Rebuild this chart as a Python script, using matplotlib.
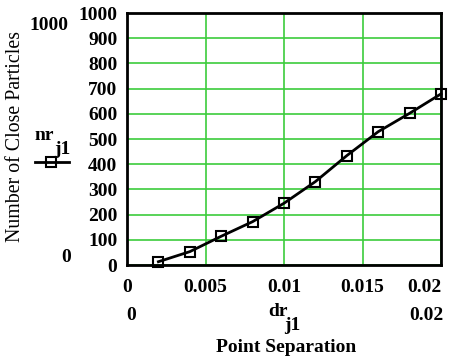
import numpy as np
from matplotlib import pyplot as plt
from matplotlib.lines import Line2D

# --- DATA ---
dr_j1 = [0.002, 0.004, 0.006, 0.008, 0.010, 0.012, 0.014, 0.016, 0.018, 0.020]
nr_j1 = [13, 53, 114, 172, 245, 331, 434, 529, 602, 679]
x_ticks = [0, 0.005, 0.01, 0.015, 0.02]
x_tick_labels = ["0", "0.005", "0.01", "0.015", "0.02"]
y_ticks = list(range(0, 1001, 100))

plt.rcParams["font.family"] = ["Liberation Serif", "DejaVu Serif"]
W, H = 451, 364
GREEN = "#3ccc3c"
FS = 14

fig = plt.figure(figsize=(W / 100, H / 100), dpi=100)
ax = fig.add_axes([127 / W, 1 - 265 / H, (441 - 127) / W, (265 - 13) / H])

ax.plot(dr_j1, nr_j1, color="black", linewidth=2, marker="s", markersize=7.5,
        markerfacecolor="none", markeredgecolor="black", markeredgewidth=1.5,
        clip_on=False, zorder=3)

ax.set_xlim(0, 0.0199)
ax.set_ylim(0, 1000)
ax.set_xticks(x_ticks)
ax.set_xticklabels(x_tick_labels)
ax.set_yticks(y_ticks)
ax.grid(color=GREEN, linewidth=1.2)
ax.tick_params(length=0, labelsize=FS)
ax.tick_params(axis="x", pad=10)
ax.tick_params(axis="y", pad=7)
for lab in ax.get_xticklabels() + ax.get_yticklabels():
    lab.set_fontweight("bold")
ax.get_xticklabels()[-1].set_horizontalalignment("right")
for s in ax.spines.values():
    s.set_linewidth(2)

# --- MATHCAD STYLE LABELS ---
bold = dict(fontweight="bold", fontsize=FS)
fig.text(49 / W, 1 - 25 / H, "1000", ha="center", va="center", **bold)
fig.text(66 / W, 1 - 258 / H, "0", ha="center", va="center", **bold)
fig.text(44 / W, 1 - 136 / H, "nr", ha="center", va="center", **bold)
fig.text(62 / W, 1 - 149 / H, "j1", ha="center", va="center", **bold)
fig.add_artist(Line2D([35 / W, 69 / W], [1 - 162 / H, 1 - 162 / H], color="black",
                      linewidth=2, transform=fig.transFigure))
fig.add_artist(Line2D([51 / W], [1 - 162 / H], marker="s", markersize=7.5,
                      markerfacecolor="none", markeredgecolor="black", markeredgewidth=1.5,
                      transform=fig.transFigure))
fig.text(16 / W, 1 - 137 / H, "Number of Close Particles", rotation=90, ha="center",
         va="center", fontsize=14.3)

fig.text(131 / W, 1 - 315 / H, "0", ha="center", va="center", **bold)
fig.text(443 / W, 1 - 315 / H, "0.02", ha="right", va="center", **bold)
fig.text(278 / W, 1 - 312 / H, "dr", ha="center", va="center", **bold)
fig.text(292 / W, 1 - 326 / H, "j1", ha="center", va="center", **bold)
fig.text(286 / W, 1 - 348 / H, "Point Separation", ha="center", va="center", **bold)

fig.savefig("out.png", dpi=100)
